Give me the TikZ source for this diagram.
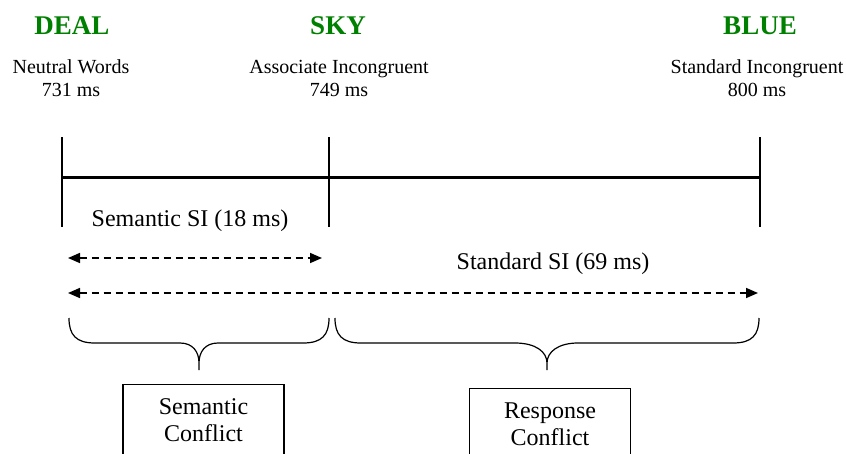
\documentclass[tikz,border=0pt]{standalone}
\usepackage{fontspec}
\setmainfont{Liberation Serif}
\usetikzlibrary{arrows.meta}
\definecolor{wordgreen}{RGB}{0,128,0}

\begin{document}
\begin{tikzpicture}[x=1pt,y=-1pt,
  word/.style={font=\fontsize{27}{30}\selectfont\bfseries, text=wordgreen, inner sep=0pt, anchor=base},
  cond/.style={font=\fontsize{20}{23}\selectfont, align=center, inner sep=0pt},
  lbl/.style={font=\fontsize{24}{27}\selectfont, inner sep=0pt, anchor=base},
  tickline/.style={line width=2pt},
  axisline/.style={line width=3pt},
  span/.style={line width=1.6pt, dash pattern=on 7pt off 5pt,
    {Triangle[length=12pt,width=10pt]}-{Triangle[length=12pt,width=10pt]}},
  brace/.style={line width=1.2pt},
  conflict/.style={draw, line width=1.2pt, font=\fontsize{24}{27}\selectfont,
    align=center, minimum width=161pt, inner ysep=14pt, text depth=30pt, anchor=north}]
\useasboundingbox (0,0) rectangle (846,453);
\clip (0,0) rectangle (846,453);

% stimulus words
\node[word] (deal) at (72,34) {DEAL};
\node[word] (sky)  at (338,34) {SKY};
\node[word] (blue) at (760,34) {BLUE};

% conditions and mean response times
\node[cond] (neutral) at (71,78) {Neutral Words\\731 ms};
\node[cond] (assoc)   at (339,78) {Associate Incongruent\\749 ms};
\node[cond] (stand)   at (757,78) {Standard Incongruent\\800 ms};

% time axis with condition markers
\coordinate (t1a) at (62,137);  \coordinate (t1b) at (62,227);
\coordinate (t2a) at (329,137); \coordinate (t2b) at (329,227);
\coordinate (t3a) at (760,137); \coordinate (t3b) at (760,227);
\coordinate (axL) at (62,177);  \coordinate (axR) at (760,177);
\draw[tickline] (t1a) -- (t1b);
\draw[tickline] (t2a) -- (t2b);
\draw[tickline] (t3a) -- (t3b);
\draw[axisline] (axL) -- (axR);

% interference spans
\node[lbl] (semsi) at (190,226) {Semantic SI (18 ms)};
\node[lbl] (stdsi) at (553,269) {Standard SI (69 ms)};
\coordinate (s1L) at (68,258);  \coordinate (s1R) at (322,258);
\coordinate (s2L) at (68,293);  \coordinate (s2R) at (758,293);
\draw[span] (s1L) -- (s1R);
\draw[span] (s2L) -- (s2R);

% braces
\coordinate (b1L) at (69,318);  \coordinate (b1R) at (329,318); \coordinate (b1T) at (199,370);
\coordinate (b2L) at (335,318); \coordinate (b2R) at (759,318); \coordinate (b2T) at (547,370);
\draw[brace] (b1L) .. controls (69,335) and (76,343) .. (95,343) -- (180,343)
  .. controls (193,343) and (199,352) .. (199,363) -- (b1T)
  (199,363) .. controls (199,352) and (205,343) .. (218,343) -- (303,343)
  .. controls (322,343) and (329,335) .. (b1R);
\draw[brace] (b2L) .. controls (335,335) and (342,343) .. (361,343) -- (515,343)
  .. controls (536,343) and (547,352) .. (547,363) -- (b2T)
  (547,363) .. controls (547,352) and (558,343) .. (578,343) -- (733,343)
  .. controls (752,343) and (759,335) .. (b2R);

% sources of conflict
\node[conflict] (semconf)  at (203.5,384) {Semantic\\Conflict};
\node[conflict] (respconf) at (550,388) {Response\\Conflict};
\end{tikzpicture}
\end{document}
